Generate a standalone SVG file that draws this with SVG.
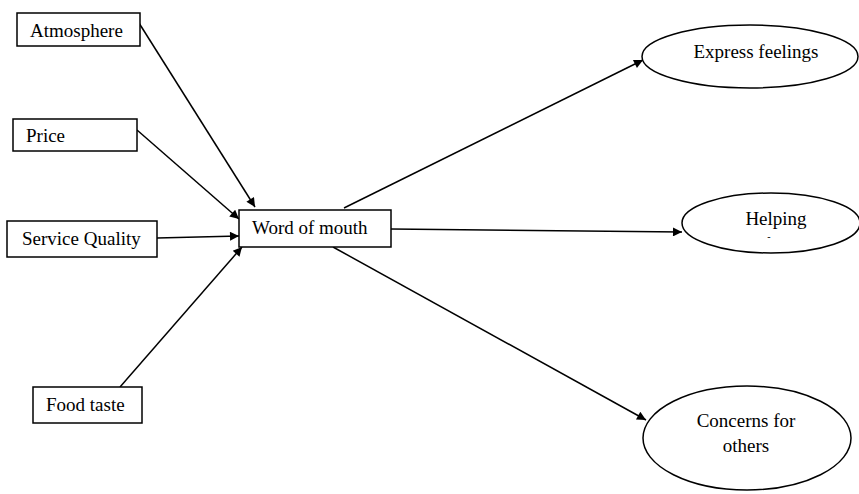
<svg xmlns="http://www.w3.org/2000/svg" width="859" height="494" viewBox="0 0 859 494">
<style>
.box{fill:#fff;stroke:#000;stroke-width:1.5}
.ell{fill:#fff;stroke:#000;stroke-width:1.5}
.t{font-family:"Liberation Serif","Times New Roman",serif;font-size:19px;fill:#000}
.c{stroke:#000;stroke-width:1.5;fill:none;marker-end:url(#ah)}
</style>
<defs>
<marker id="ah" viewBox="0 0 10 10" refX="10" refY="5" markerWidth="11" markerHeight="9" markerUnits="userSpaceOnUse" orient="auto">
<path d="M0,0 L10,5 L0,10 z" fill="#000"/>
</marker>
</defs>
<rect width="859" height="494" fill="#fff"/>
<g id="connectors">
<line class="c" x1="139" y1="23" x2="255" y2="207"/>
<line class="c" x1="137" y1="130" x2="239" y2="219"/>
<line class="c" x1="157" y1="238" x2="239" y2="236"/>
<line class="c" x1="120" y1="387" x2="242" y2="247"/>
<line class="c" x1="344" y1="208" x2="643" y2="60"/>
<line class="c" x1="391" y1="229" x2="682" y2="232"/>
<line class="c" x1="333" y1="247" x2="646" y2="420"/>
</g>
<g id="atmosphere">
<rect class="box" x="17" y="13" width="123" height="33"/>
<text class="t" x="30" y="37">Atmosphere</text>
</g>
<g id="price">
<rect class="box" x="13" y="119" width="124" height="32"/>
<text class="t" x="26" y="142">Price</text>
</g>
<g id="service-quality">
<rect class="box" x="7" y="221" width="150" height="36"/>
<text class="t" x="22" y="245">Service Quality</text>
</g>
<g id="food-taste">
<rect class="box" x="33" y="387" width="109" height="36"/>
<text class="t" x="46" y="411">Food taste</text>
</g>
<g id="word-of-mouth">
<rect class="box" x="239" y="210" width="152" height="37"/>
<text class="t" x="252" y="234">Word of mouth</text>
</g>
<g id="express-feelings">
<ellipse class="ell" cx="750" cy="56.5" rx="108" ry="31.5"/>
<text class="t" x="756" y="58" text-anchor="middle">Express feelings</text>
</g>
<g id="helping">
<ellipse class="ell" cx="771" cy="223" rx="89" ry="30"/>
<text class="t" x="776" y="225" text-anchor="middle">Helping</text>
<text class="t" x="769" y="240" text-anchor="middle" style="font-size:10px">-</text>
</g>
<g id="concerns-for-others">
<ellipse class="ell" cx="747" cy="438" rx="104" ry="52"/>
<text class="t" x="746" y="427" text-anchor="middle">Concerns for</text>
<text class="t" x="746" y="452" text-anchor="middle">others</text>
</g>
</svg>
